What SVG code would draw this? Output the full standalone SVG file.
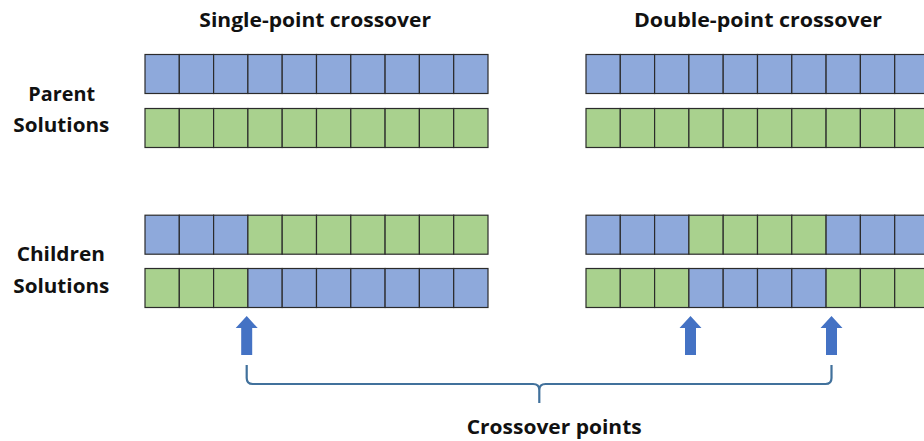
<svg xmlns="http://www.w3.org/2000/svg" width="924" height="441" viewBox="0 0 924 441">
  <style>
    .b { fill: #8EA9DB; stroke: #2b2b2b; stroke-width: 1.2; }
    .g { fill: #A9D18E; stroke: #2b2b2b; stroke-width: 1.2; }
    .t { font-family: "Open Sans", "Liberation Sans", sans-serif; font-weight: bold; font-size: 20px; fill: #111; text-anchor: middle; }
    .arrow { fill: #4472C4; }
    .brace { fill: none; stroke: #41719C; stroke-width: 2.2; }
  </style>
  <defs>
    <!-- one 34.3px gene cell of each colour -->
    <rect id="cb" class="b" width="34.3" height="39"/>
    <rect id="cg" class="g" width="34.3" height="39"/>
    <!-- upward crossover-point arrow, tip at origin -->
    <path id="up" class="arrow" d="M0,0 L11,12 L5.5,12 L5.5,39 L-5.5,39 L-5.5,12 L-11,12 Z"/>
  </defs>

  <!-- headings -->
  <text class="t" x="315.2" y="27" textLength="231.7" lengthAdjust="spacingAndGlyphs">Single-point crossover</text>
  <text class="t" x="758" y="27" textLength="248" lengthAdjust="spacingAndGlyphs">Double-point crossover</text>
  <text class="t" x="61.7" y="101" textLength="66.7" lengthAdjust="spacingAndGlyphs">Parent</text>
  <text class="t" x="61.3" y="132.3" textLength="96" lengthAdjust="spacingAndGlyphs">Solutions</text>
  <text class="t" x="60.8" y="260.7" textLength="88.3" lengthAdjust="spacingAndGlyphs">Children</text>
  <text class="t" x="61.3" y="292.7" textLength="96" lengthAdjust="spacingAndGlyphs">Solutions</text>

  <!-- single-point: parents -->
  <g id="sp-parent1">
    <use href="#cb" x="145" y="54.5"/><use href="#cb" x="179.3" y="54.5"/><use href="#cb" x="213.6" y="54.5"/><use href="#cb" x="247.9" y="54.5"/><use href="#cb" x="282.2" y="54.5"/><use href="#cb" x="316.5" y="54.5"/><use href="#cb" x="350.8" y="54.5"/><use href="#cb" x="385.1" y="54.5"/><use href="#cb" x="419.4" y="54.5"/><use href="#cb" x="453.7" y="54.5"/>
  </g>
  <g id="sp-parent2">
    <use href="#cg" x="145" y="108.5"/><use href="#cg" x="179.3" y="108.5"/><use href="#cg" x="213.6" y="108.5"/><use href="#cg" x="247.9" y="108.5"/><use href="#cg" x="282.2" y="108.5"/><use href="#cg" x="316.5" y="108.5"/><use href="#cg" x="350.8" y="108.5"/><use href="#cg" x="385.1" y="108.5"/><use href="#cg" x="419.4" y="108.5"/><use href="#cg" x="453.7" y="108.5"/>
  </g>
  <!-- single-point: children -->
  <g id="sp-child1">
    <use href="#cb" x="145" y="215.2"/><use href="#cb" x="179.3" y="215.2"/><use href="#cb" x="213.6" y="215.2"/><use href="#cg" x="247.9" y="215.2"/><use href="#cg" x="282.2" y="215.2"/><use href="#cg" x="316.5" y="215.2"/><use href="#cg" x="350.8" y="215.2"/><use href="#cg" x="385.1" y="215.2"/><use href="#cg" x="419.4" y="215.2"/><use href="#cg" x="453.7" y="215.2"/>
  </g>
  <g id="sp-child2">
    <use href="#cg" x="145" y="268.5"/><use href="#cg" x="179.3" y="268.5"/><use href="#cg" x="213.6" y="268.5"/><use href="#cb" x="247.9" y="268.5"/><use href="#cb" x="282.2" y="268.5"/><use href="#cb" x="316.5" y="268.5"/><use href="#cb" x="350.8" y="268.5"/><use href="#cb" x="385.1" y="268.5"/><use href="#cb" x="419.4" y="268.5"/><use href="#cb" x="453.7" y="268.5"/>
  </g>

  <!-- double-point: parents -->
  <g id="dp-parent1">
    <use href="#cb" x="586" y="54.5"/><use href="#cb" x="620.3" y="54.5"/><use href="#cb" x="654.6" y="54.5"/><use href="#cb" x="688.9" y="54.5"/><use href="#cb" x="723.2" y="54.5"/><use href="#cb" x="757.5" y="54.5"/><use href="#cb" x="791.8" y="54.5"/><use href="#cb" x="826.1" y="54.5"/><use href="#cb" x="860.4" y="54.5"/><use href="#cb" x="894.7" y="54.5"/>
  </g>
  <g id="dp-parent2">
    <use href="#cg" x="586" y="108.5"/><use href="#cg" x="620.3" y="108.5"/><use href="#cg" x="654.6" y="108.5"/><use href="#cg" x="688.9" y="108.5"/><use href="#cg" x="723.2" y="108.5"/><use href="#cg" x="757.5" y="108.5"/><use href="#cg" x="791.8" y="108.5"/><use href="#cg" x="826.1" y="108.5"/><use href="#cg" x="860.4" y="108.5"/><use href="#cg" x="894.7" y="108.5"/>
  </g>
  <!-- double-point: children -->
  <g id="dp-child1">
    <use href="#cb" x="586" y="215.2"/><use href="#cb" x="620.3" y="215.2"/><use href="#cb" x="654.6" y="215.2"/><use href="#cg" x="688.9" y="215.2"/><use href="#cg" x="723.2" y="215.2"/><use href="#cg" x="757.5" y="215.2"/><use href="#cg" x="791.8" y="215.2"/><use href="#cb" x="826.1" y="215.2"/><use href="#cb" x="860.4" y="215.2"/><use href="#cb" x="894.7" y="215.2"/>
  </g>
  <g id="dp-child2">
    <use href="#cg" x="586" y="268.5"/><use href="#cg" x="620.3" y="268.5"/><use href="#cg" x="654.6" y="268.5"/><use href="#cb" x="688.9" y="268.5"/><use href="#cb" x="723.2" y="268.5"/><use href="#cb" x="757.5" y="268.5"/><use href="#cb" x="791.8" y="268.5"/><use href="#cg" x="826.1" y="268.5"/><use href="#cg" x="860.4" y="268.5"/><use href="#cg" x="894.7" y="268.5"/>
  </g>

  <!-- crossover-point markers and brace -->
  <g id="connectors">
    <use href="#up" x="246.7" y="316"/>
    <use href="#up" x="690.5" y="316"/>
    <use href="#up" x="831.5" y="316"/>
    <path class="brace" d="M246.7,365 L246.7,378 Q246.7,384 252.7,384 L533,384 Q539.3,384 539.3,390 L539.3,403 M539.3,390 Q539.3,384 545.6,384 L825.5,384 Q831.5,384 831.5,378 L831.5,365"/>
  </g>

  <text class="t" x="554.2" y="434" textLength="175" lengthAdjust="spacingAndGlyphs">Crossover points</text>
</svg>
